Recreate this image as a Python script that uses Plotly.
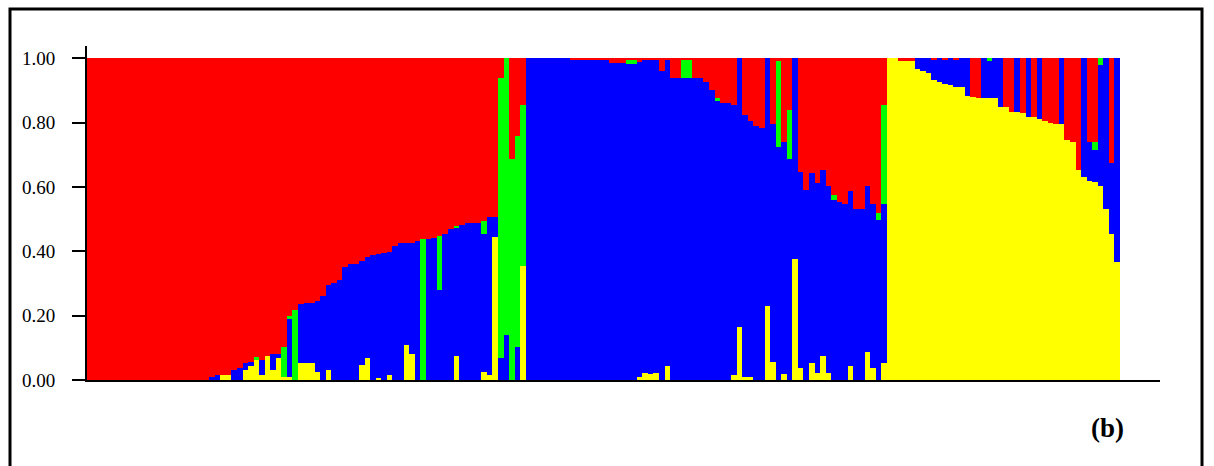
import plotly.graph_objects as go

# Membership coefficients (Q) per individual, bottom-to-top stacking: yellow, blue, green, red
yellow = [
    0, 0, 0, 0, 0, 0, 0, 0, 0, 0,
    0, 0, 0, 0, 0, 0, 0, 0, 0, 0,
    0, 0, 0, 0, .015, .015, 0, 0, .031, .045,
    .065, .015, .075, .03, .068, .01, .01, 0, .052, .052,
    .052, .024, 0, .03, 0, 0, 0, 0, 0, .047,
    .068, 0, .005, 0, .015, 0, 0, .109, .08, 0,
    0, 0, 0, 0, 0, 0, .075, 0, 0, 0,
    0, .025, .015, .445, 0, 0, 0, 0, .353, 0,
    0, 0, 0, 0, 0, 0, 0, 0, 0, 0,
    0, 0, 0, 0, 0, 0, 0, 0, 0, .008,
    .022, .018, .022, 0, .045, 0, 0, 0, 0, 0,
    0, 0, 0, 0, 0, 0, .016, .166, .008, .008,
    0, 0, .23, .057, 0, .018, 0, .375, .036, 0,
    .052, .022, .075, .022, 0, 0, 0, .043, 0, 0,
    .088, .036, 0, .052, 1, 1, .992, .992, .992, .968,
    .961, .953, .932, .925, .921, .916, .911, .911, .882, .88,
    .875, .875, .875, .875, .847, .847, .834, .834, .829, .818,
    .818, .812, .805, .799, .797, .795, .745, .74, .654, .631,
    .619, .615, .602, .533, .455, .367,
]

blue = [
    0, 0, 0, 0, 0, 0, 0, 0, 0, 0,
    0, 0, 0, 0, 0, 0, 0, 0, 0, 0,
    0, 0, .01, .015, 0, 0, .03, .036, .021, .012,
    0, .047, 0, .051, .013, 0, .18, 0, .183, .186,
    .186, .222, .261, .265, .303, .31, .352, .359, .361, .322,
    .314, .389, .386, .396, .383, .416, .425, .318, .347, .433,
    0, .437, .44, .281, .453, .47, .399, .481, .488, .488,
    .488, .43, .493, .063, .067, .139, 0, .103, 0, 1,
    1, 1, 1, 1, 1, 1, 1, .993, .993, .993,
    .993, .993, .993, .993, .986, .986, .986, .983, .983, .98,
    .975, .977, .973, .96, .95, .94, .94, .94, .94, .94,
    .94, .925, .9, .868, .862, .862, .84, .834, .817, .796,
    .789, .783, .77, .74, .724, .722, .688, .625, .611, .59,
    .591, .589, .577, .58, .559, .552, .547, .545, .533, .533,
    .514, .511, .497, .495, 0, 0, 0, 0, 0, .032,
    .039, .047, .063, .075, .074, .084, .084, .089, .118, 0,
    0, .125, .117, .125, .153, 0, 0, .166, 0, .182,
    0, .188, 0, 0, 0, .205, 0, 0, 0, .369,
    .121, .101, .377, .467, .218, .633,
]

green = [
    0, 0, 0, 0, 0, 0, 0, 0, 0, 0,
    0, 0, 0, 0, 0, 0, 0, 0, 0, 0,
    0, 0, 0, 0, 0, 0, 0, 0, 0, 0,
    .005, 0, 0, 0, 0, .093, .008, .217, 0, 0,
    0, 0, 0, 0, 0, 0, 0, 0, 0, 0,
    0, 0, 0, 0, 0, 0, 0, 0, 0, 0,
    .437, 0, 0, .167, 0, 0, .005, 0, 0, 0,
    0, .038, 0, 0, .873, .861, .688, .654, .501, 0,
    0, 0, 0, 0, 0, 0, 0, 0, 0, 0,
    0, 0, 0, 0, 0, 0, 0, .012, .012, 0,
    0, 0, 0, 0, 0, 0, 0, .055, .055, 0,
    0, 0, 0, .007, 0, 0, 0, 0, 0, 0,
    0, 0, 0, 0, .27, 0, .15, 0, 0, 0,
    0, 0, 0, 0, .016, 0, 0, 0, 0, 0,
    0, 0, .021, .307, 0, 0, 0, 0, 0, 0,
    0, 0, 0, 0, 0, 0, 0, 0, 0, 0,
    0, 0, .008, 0, 0, 0, 0, 0, 0, 0,
    0, 0, 0, 0, 0, 0, 0, 0, 0, 0,
    0, .024, .021, 0, 0, 0,
]

red = [
    1, 1, 1, 1, 1, 1, 1, 1, 1, 1,
    1, 1, 1, 1, 1, 1, 1, 1, 1, 1,
    1, 1, .99, .985, .985, .985, .97, .964, .948, .943,
    .93, .938, .925, .919, .919, .897, .802, .783, .765, .762,
    .762, .754, .739, .705, .697, .69, .648, .641, .639, .631,
    .618, .611, .609, .604, .602, .584, .575, .573, .573, .567,
    .563, .563, .56, .552, .547, .53, .521, .519, .512, .512,
    .512, .507, .492, .492, .06, 0, .312, .243, .146, 0,
    0, 0, 0, 0, 0, 0, 0, .007, .007, .007,
    .007, .007, .007, .007, .014, .014, .014, .005, .005, .012,
    .003, .005, .005, .04, .005, .06, .06, .005, .005, .06,
    .06, .075, .1, .125, .138, .138, .144, 0, .175, .196,
    .211, .217, 0, .203, .006, .26, .162, 0, .353, .41,
    .357, .389, .348, .398, .425, .448, .453, .412, .467, .467,
    .398, .453, .482, .146, 0, 0, .008, .008, .008, 0,
    0, 0, .005, 0, .005, 0, .005, 0, 0, .12,
    .125, 0, 0, 0, 0, .153, .166, 0, .171, 0,
    .182, 0, .195, .201, .203, 0, .255, .26, .346, 0,
    .26, .26, 0, 0, .327, 0,
]

individuals = list(range(1, len(red) + 1))
tick_vals = [0.0, 0.2, 0.4, 0.6, 0.8, 1.0]
tick_text = ["0.00", "0.20", "0.40", "0.60", "0.80", "1.00"]
panel_label = "(b)"

series = [
    (yellow, "#FFFF00"),
    (blue, "#0000FF"),
    (green, "#00FF00"),
    (red, "#FF0000"),
]

fig = go.Figure()
for vals, col in series:
    fig.add_trace(go.Bar(
        x=individuals, y=vals, width=1,
        marker=dict(color=col, line=dict(width=0)),
        showlegend=False, hoverinfo="skip",
    ))

fig.update_layout(
    width=1214, height=466,
    margin=dict(l=87, r=54, t=46, b=86, pad=0),
    barmode="stack", bargap=0,
    paper_bgcolor="white", plot_bgcolor="white",
    xaxis=dict(
        range=[0.5, 193.7], showticklabels=False, ticks="",
        showgrid=False, zeroline=False,
        showline=True, linecolor="black", linewidth=2,
    ),
    yaxis=dict(
        range=[0, 1.038], tickvals=tick_vals, ticktext=tick_text,
        ticks="outside", ticklen=13, tickwidth=2, tickcolor="black",
        showgrid=False, zeroline=False,
        showline=True, linecolor="black", linewidth=2,
        ticklabelstandoff=13,
        tickfont=dict(family="Liberation Serif", size=19, color="black"),
    ),
    shapes=[dict(
        type="rect", xref="paper", yref="paper",
        x0=(10 - 87) / 1073, x1=(1202 - 87) / 1073,
        y0=-0.4, y1=(380 - 9) / 334,
        line=dict(color="black", width=3), fillcolor="rgba(0,0,0,0)",
        layer="above",
    )],
    annotations=[dict(
        text="<b>" + panel_label + "</b>", xref="paper", yref="paper",
        x=(1107 - 87) / 1073, y=(380 - 428) / 334,
        xanchor="center", yanchor="middle", showarrow=False,
        font=dict(family="Liberation Serif", size=27, color="black"),
    )],
)

fig.write_html("out.html")
